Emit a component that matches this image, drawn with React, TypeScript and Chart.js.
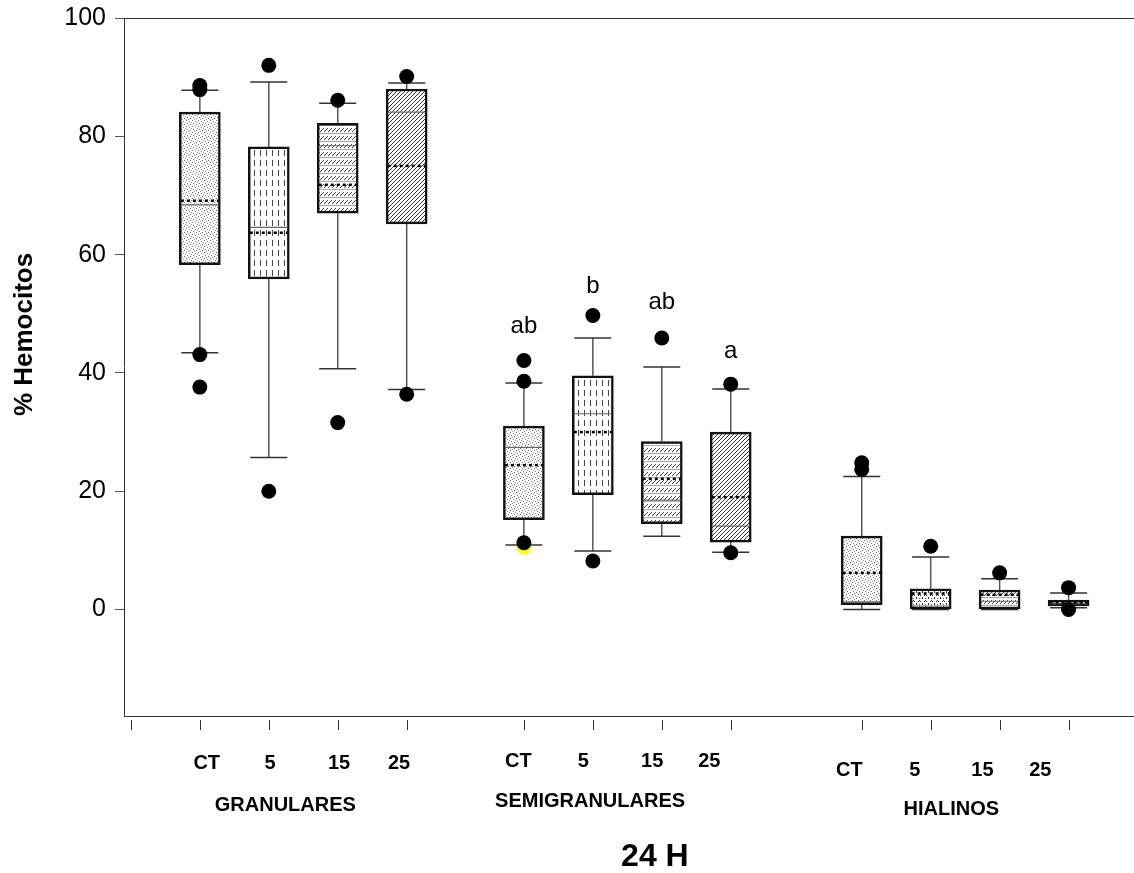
import React, { useEffect, useRef } from 'react';
import { Chart, registerables } from 'chart.js';

Chart.register(...registerables);

const FONT = '"Liberation Sans", Arial, Helvetica, sans-serif';

// ---- data ----
const treatments = ['CT', '5', '15', '25'];
const groups = ['GRANULARES', 'SEMIGRANULARES', 'HIALINOS'];
// box positions on the x axis (group gaps included)
const boxX = [1, 2, 3, 4, 5.7, 6.7, 7.7, 8.7, 10.6, 11.6, 12.6, 13.6];
const xTicks = [0, 1, 2, 3, 4, 5.7, 6.7, 7.7, 8.7, 10.6, 11.6, 12.6, 13.6];
const yTicks = [0, 20, 40, 60, 80, 100];

const q1 = [58.3, 55.9, 67.0, 65.2, 15.2, 19.4, 14.5, 11.4, 0.8, 0.0, 0.0, 0.6];
const q3 = [84.1, 78.2, 82.2, 88.0, 31.0, 39.5, 28.4, 30.0, 12.4, 3.5, 3.3, 1.6];
const medians = [68.4, 64.6, 78.4, 84.1, 27.4, 33.1, 18.5, 14.1, 1.3, 0.6, 1.4, 1.0];
const means = [69.1, 63.7, 71.8, 75.0, 24.4, 30.0, 22.1, 19.0, 6.2, 2.7, 2.5, 1.2];
const whiskLo = [43.4, 25.7, 40.7, 37.2, 10.9, 9.9, 12.4, 9.7, 0.0, 0.0, 0.0, 0.3];
const whiskHi = [87.8, 89.2, 85.6, 89.0, 38.3, 45.9, 41.0, 37.3, 22.5, 8.9, 5.2, 2.8];

const outlierBox = [0, 0, 0, 0, 1, 1, 2, 2, 3, 3, 4, 4, 4, 5, 5, 6, 7, 7, 8, 8, 9, 10, 11, 11];
const outlierVal = [88.6, 87.9, 43.1, 37.6, 92.0, 20.0, 86.1, 31.6, 90.1, 36.4, 42.1, 38.6, 11.3, 49.7, 8.2, 45.9, 38.1, 9.6, 24.8, 23.7, 10.7, 6.2, 3.7, 0.0];

// significance letters for SEMIGRANULARES boxes
const sigBox = [4, 5, 6, 7];
const sigLetters = ['ab', 'b', 'ab', 'a'];
const sigY = [47.8, 54.6, 52.0, 43.6];

// label anchors (x axis units)
const catLabelX = [1.1, 2.02, 3.02, 3.89, 5.62, 6.56, 7.56, 8.39, 10.42, 11.37, 12.35, 13.19];
const groupLabelX = [2.24, 6.66, 11.9];
const yTitle = '% Hemocitos';
const yTitleCenter = 46.5;
const patternKinds = ['stipple', 'vdash', 'hband', 'diag', 'stipple', 'vdash', 'hband', 'diag', 'stipple', 'dots2', 'hband', 'diag'];

function makePattern(kind: string): CanvasPattern | string {
  const c = document.createElement('canvas');
  let w = 4, h = 4;
  if (kind === 'stipple') { w = 6; h = 6; }
  if (kind === 'vdash') { w = 6; h = 10; }
  if (kind === 'hband') { w = 4; h = 8; }
  if (kind === 'dots2') { w = 6; h = 6; }
  c.width = w; c.height = h;
  const g = c.getContext('2d')!;
  g.fillStyle = '#fff';
  g.fillRect(0, 0, w, h);
  const px = (x: number, y: number, col: string) => { g.fillStyle = col; g.fillRect(x, y, 1, 1); };
  if (kind === 'stipple') {
    px(0, 0, '#666'); px(3, 1, '#888'); px(1, 3, '#777'); px(4, 4, '#666'); px(2, 5, '#999'); px(5, 2, '#999');
  } else if (kind === 'vdash') {
    g.fillStyle = '#444'; g.fillRect(2, 0, 1, 6);
  } else if (kind === 'hband') {
    px(3, 0, '#444'); px(2, 1, '#444'); px(1, 2, '#444'); px(0, 3, '#444');
    g.fillStyle = '#aaa'; g.fillRect(0, 5, 4, 1);
  } else if (kind === 'diag') {
    px(3, 0, '#333'); px(2, 1, '#333'); px(1, 2, '#333'); px(0, 3, '#333');
  } else if (kind === 'dots2') {
    px(0, 1, '#333'); px(1, 0, '#333'); px(2, 1, '#333'); px(4, 3, '#333'); px(4, 4, '#333'); px(1, 4, '#555');
  }
  const p = g.createPattern(c, 'repeat');
  return p || '#fff';
}

const BAR_INDEX = 2;

const zeroPad = (s: any) => { s.paddingTop = 0; s.paddingBottom = 0; s.paddingLeft = 0; s.paddingRight = 0; };

const boxPlugin = {
  id: 'boxDecor',
  beforeDatasetsDraw(chart: any) {
    const { ctx, chartArea: a, scales } = chart;
    const x = scales.x, y = scales.y;
    ctx.save();
    ctx.strokeStyle = '#333';
    ctx.lineWidth = 1;
    ctx.beginPath();
    ctx.moveTo(a.left, a.top + 0.5); ctx.lineTo(chart.width, a.top + 0.5);
    ctx.moveTo(a.left, a.bottom + 0.5); ctx.lineTo(chart.width, a.bottom + 0.5);
    ctx.stroke();
    ctx.beginPath();
    xTicks.forEach((v) => {
      const p = Math.round(x.getPixelForValue(v)) + 0.5;
      ctx.moveTo(p, a.bottom + 4); ctx.lineTo(p, a.bottom + 14);
    });
    ctx.stroke();
    boxX.forEach((bx, i) => {
      const p = x.getPixelForValue(bx);
      const yh = y.getPixelForValue(whiskHi[i]);
      const yl = y.getPixelForValue(whiskLo[i]);
      ctx.strokeStyle = '#555';
      ctx.lineWidth = 1.5;
      ctx.beginPath();
      ctx.moveTo(p, y.getPixelForValue(q3[i])); ctx.lineTo(p, yh);
      ctx.moveTo(p, y.getPixelForValue(q1[i])); ctx.lineTo(p, yl);
      ctx.stroke();
      ctx.strokeStyle = '#333';
      ctx.beginPath();
      ctx.moveTo(p - 18.5, yh); ctx.lineTo(p + 18.5, yh);
      ctx.moveTo(p - 18.5, yl); ctx.lineTo(p + 18.5, yl);
      ctx.stroke();
    });
    ctx.restore();
  },
  afterDatasetDraw(chart: any, args: any) {
    if (args.index !== BAR_INDEX) return;
    const { ctx, scales } = chart;
    const x = scales.x, y = scales.y;
    ctx.save();
    boxX.forEach((bx, i) => {
      const p = x.getPixelForValue(bx);
      const ym = y.getPixelForValue(medians[i]);
      ctx.strokeStyle = '#666';
      ctx.lineWidth = 1.2;
      ctx.setLineDash([]);
      ctx.beginPath(); ctx.moveTo(p - 19, ym); ctx.lineTo(p + 19, ym); ctx.stroke();
      const ya = y.getPixelForValue(means[i]);
      ctx.strokeStyle = '#000';
      ctx.lineWidth = 2.5;
      ctx.setLineDash([3, 3]);
      ctx.beginPath(); ctx.moveTo(p - 19, ya); ctx.lineTo(p + 19, ya); ctx.stroke();
    });
    ctx.restore();
  },
  afterDraw(chart: any) {
    const { ctx, chartArea: a, scales } = chart;
    const x = scales.x, y = scales.y;
    ctx.save();
    ctx.fillStyle = '#000';
    ctx.textAlign = 'center';
    ctx.textBaseline = 'middle';
    // y title
    ctx.save();
    ctx.translate(25, y.getPixelForValue(yTitleCenter));
    ctx.rotate(-Math.PI / 2);
    ctx.font = `bold 26px ${FONT}`;
    ctx.fillText(yTitle, 0, 0);
    ctx.restore();
    // significance letters
    ctx.font = `24px ${FONT}`;
    sigBox.forEach((b, k) => {
      ctx.fillText(sigLetters[k], x.getPixelForValue(boxX[b]), y.getPixelForValue(sigY[k]));
    });
    // treatment labels
    const catRow = [47, 45, 54];
    const groupRow = [89, 85, 93];
    ctx.font = `bold 20px ${FONT}`;
    catLabelX.forEach((cx, i) => {
      const g = Math.floor(i / 4);
      ctx.fillText(treatments[i % 4], x.getPixelForValue(cx), a.bottom + catRow[g]);
    });
    groups.forEach((name, g) => {
      ctx.fillText(name, x.getPixelForValue(groupLabelX[g]), a.bottom + groupRow[g]);
    });
    ctx.font = `bold 32px ${FONT}`;
    ctx.fillText('24 H', x.getPixelForValue(7.6), a.bottom + 141);
    ctx.restore();
  },
};

export default function App() {
  const ref = useRef<HTMLCanvasElement>(null);
  useEffect(() => {
    if (!ref.current) return;
    const patterns = patternKinds.map((k) => makePattern(k));
    const chart = new Chart(ref.current, {
      type: 'bar',
      data: {
        datasets: [
          {
            type: 'scatter',
            data: outlierBox.map((b, i) => ({ x: boxX[b], y: outlierVal[i] })),
            pointRadius: 7.5,
            pointBackgroundColor: '#000',
            pointBorderWidth: 0,
            showLine: false,
          } as any,
          {
            type: 'scatter',
            data: [{ x: boxX[4], y: 10.6 }],
            pointRadius: 7.5,
            pointBackgroundColor: '#ffff00',
            pointBorderWidth: 0,
            showLine: false,
          } as any,
          {
            type: 'bar',
            data: boxX.map((bx, i) => ({ x: bx, y: [q1[i], q3[i]] })) as any,
            backgroundColor: patterns as any,
            borderColor: '#111',
            borderWidth: 2.5,
            borderSkipped: false,
            barThickness: 41,
          } as any,
        ],
      },
      options: {
        responsive: false,
        animation: false,
        devicePixelRatio: 1,
        layout: { padding: { top: 18, right: 0, bottom: 157, left: 0 } },
        plugins: { legend: { display: false }, tooltip: { enabled: false } },
        scales: {
          x: {
            type: 'linear', min: -0.1, max: 14.44, display: false, offset: false,
            grid: { offset: false },
            afterFit: zeroPad,
          },
          y: {
            type: 'linear',
            min: -18,
            max: 100,
            afterBuildTicks: (s: any) => { s.ticks = yTicks.map((v) => ({ value: v })); },
            afterFit: (s: any) => { s.width = 124; zeroPad(s); },
            border: { display: true, color: '#333', width: 1 },
            grid: { drawOnChartArea: false, drawTicks: true, tickLength: 9, color: '#555' },
            ticks: { font: { family: FONT, size: 25 }, color: '#000', padding: 9 },
            title: { display: false },
          },
        },
      } as any,
      plugins: [boxPlugin],
    });
    return () => chart.destroy();
  }, []);
  return (
    <div style={{ position: 'absolute', left: 0, top: 0, width: 1134, height: 873, background: '#fff' }}>
      <canvas ref={ref} width={1134} height={873} style={{ display: 'block', width: 1134, height: 873 }} />
    </div>
  );
}
